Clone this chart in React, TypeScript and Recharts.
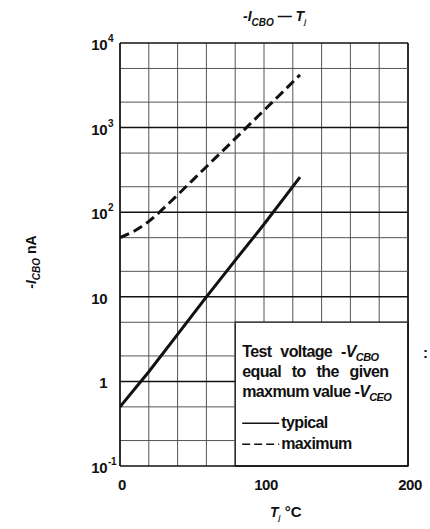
import { LineChart, Line, XAxis, YAxis, CartesianGrid, ReferenceLine, ReferenceArea } from "recharts"

// typical curve (solid)
const typicalTemp = [0, 20, 40, 60, 80, 100, 125]
const typicalCurrent = [0.5, 1.3, 3.6, 10, 27, 72, 260]

// maximum curve (dashed)
const maxTemp = [0, 10, 20, 30, 40, 50, 60, 70, 80, 90, 100, 110, 125]
const maxCurrent = [50, 60, 78, 110, 160, 235, 345, 505, 740, 1090, 1600, 2350, 4200]

const xTicks = [0, 20, 40, 60, 80, 100, 120, 140, 160, 180, 200]
const xLabels = [0, 100, 200]

const yMinor = [0.2, 0.5, 2, 5, 20, 50, 200, 500, 2000, 5000]
const yDecades = [0.1, 1, 10, 100, 1000, 10000]
const yBases = ["10", "1", "10", "10", "10", "10"]
const ySups = ["-1", "", "", "2", "3", "4"]

// note box spans x 80..200, y 0.1..5
const noteX = [80, 200]
const noteY = [0.1, 5]

const typicalData = typicalTemp.map((t, i) => ({ t, i: typicalCurrent[i] }))
const maxData = maxTemp.map((t, i) => ({ t, i: maxCurrent[i] }))
// minor grid rows, cut short where the note box sits
const minorRows = yMinor.map((v) => [
  { t: 0, g: v },
  { t: v < noteY[1] ? noteX[0] : 200, g: v },
])

const W = 430
const H = 529
const M = { top: 43, right: 22, bottom: 33, left: 50 }
const Y_AXIS_W = 70
const PLOT_L = M.left + Y_AXIS_W
const PLOT_R = W - M.right
const NOTE_L = PLOT_L + (noteX[0] / 200) * (PLOT_R - PLOT_L)

const FONT = "'Liberation Sans', Arial, sans-serif"
const INK = "#111"
const GRID = "#555"

const YTick = (props: any) => {
  const { y, payload } = props
  const v = payload.value
  const idx = yDecades.indexOf(v)
  if (idx < 0) return <g />
  const isEdge = v === 0.1 || v === 10000
  const x2 = v < noteY[1] ? NOTE_L : PLOT_R
  const bx = 107
  return (
    <g>
      {!isEdge && <line x1={PLOT_L} x2={x2} y1={y} y2={y} stroke={INK} strokeWidth={1.5} />}
      <g fontFamily={FONT} fontWeight="bold" fill={INK}>
        <text x={bx} y={y + 7} textAnchor="end" fontSize={15} letterSpacing={-0.5}>
          {yBases[idx]}
        </text>
        {ySups[idx] && (
          <text x={bx + 1} y={y - 1} textAnchor="start" fontSize={10} letterSpacing={-0.3}>
            {ySups[idx]}
          </text>
        )}
      </g>
    </g>
  )
}

const XTick = (props: any) => {
  const { x, y, payload } = props
  if (!xLabels.includes(payload.value)) return <g />
  return (
    <text x={x + 2} y={y + 16} textAnchor="middle" fontFamily={FONT} fontWeight="bold" fontSize={15} letterSpacing={-0.5} fill={INK}>
      {payload.value}
    </text>
  )
}

const Note = (props: any) => {
  const vb = props.viewBox || { x: 236, y: 322 }
  const x = vb.x + 7
  const y = vb.y
  return (
    <g fontFamily={FONT} fontWeight="bold" fontSize={16} fill={INK} letterSpacing={-0.6}>
      <text x={x} y={y + 35} wordSpacing={5}>
        Test voltage -<tspan fontStyle="italic">V</tspan>
        <tspan fontSize={11} dy={4} fontStyle="italic">CBO</tspan>
      </text>
      <text x={x} y={y + 55} wordSpacing={7}>
        equal to the given
      </text>
      <text x={x} y={y + 75}>
        maxmum value -<tspan fontStyle="italic">V</tspan>
        <tspan fontSize={11} dy={4} fontStyle="italic">CEO</tspan>
      </text>
      <line x1={x} x2={x + 37} y1={y + 101} y2={y + 101} stroke={INK} strokeWidth={1.5} />
      <text x={x + 39} y={y + 106}>typical</text>
      <line x1={x} x2={x + 37} y1={y + 122} y2={y + 122} stroke={INK} strokeWidth={1.5} strokeDasharray="8 4" />
      <text x={x + 39} y={y + 127}>maximum</text>
    </g>
  )
}

export default function App() {
  return (
    <div style={{ position: "absolute", left: 0, top: 0, width: W, height: H, background: "#fff" }}>
      <LineChart width={W} height={H} margin={M}>
        <CartesianGrid stroke={GRID} strokeWidth={1} horizontal={false} verticalValues={xTicks} />
        <XAxis
          dataKey="t"
          type="number"
          domain={[0, 200]}
          ticks={xTicks}
          interval={0}
          tickLine={false}
          axisLine={{ stroke: INK, strokeWidth: 1.6 }}
          tick={<XTick />}
          height={30}
          allowDataOverflow
        />
        <YAxis
          scale="log"
          domain={[0.1, 10000]}
          ticks={yDecades}
          interval={0}
          tickLine={false}
          axisLine={{ stroke: INK, strokeWidth: 1.6 }}
          tick={<YTick />}
          width={Y_AXIS_W}
          allowDataOverflow
        />
        <ReferenceLine y={10000} stroke={INK} strokeWidth={1.6} />
        <ReferenceLine x={200} stroke={INK} strokeWidth={1.6} />
        <ReferenceArea
          x1={noteX[0]}
          x2={noteX[1]}
          y1={noteY[0]}
          y2={noteY[1]}
          fill="#fff"
          fillOpacity={1}
          stroke={INK}
          strokeWidth={1.3}
          label={<Note />}
        />
        {minorRows.map((row, k) => (
          <Line
            key={`row${k}`}
            data={row}
            dataKey="g"
            type="linear"
            stroke={GRID}
            strokeWidth={1}
            dot={false}
            activeDot={false}
            isAnimationActive={false}
          />
        ))}
        <Line data={typicalData} dataKey="i" type="linear" stroke={INK} strokeWidth={3} dot={false} isAnimationActive={false} />
        <Line data={maxData} dataKey="i" type="monotone" stroke={INK} strokeWidth={3} strokeDasharray="10 5" dot={false} isAnimationActive={false} />
        <text x={243} y={21} fontFamily={FONT} fontWeight="bold" fontStyle="italic" fontSize={14} fill={INK}>
          -I<tspan fontSize={10} dy={5}>CBO</tspan>
          <tspan dy={-5} fontSize={14} fontStyle="normal"> —  </tspan>
          <tspan>T</tspan>
          <tspan fontSize={7} dy={3}>j</tspan>
        </text>
        <text
          x={36}
          y={262}
          transform="rotate(-90 36 262)"
          textAnchor="middle"
          fontFamily={FONT}
          fontWeight="bold"
          fontSize={14}
          fill={INK}
        >
          <tspan fontStyle="italic">-I</tspan>
          <tspan fontStyle="italic" fontSize={10} dy={4}>CBO</tspan>
          <tspan dy={-4}> nA</tspan>
        </text>
        <text x={270} y={517} fontFamily={FONT} fontWeight="bold" fontSize={15} fill={INK}>
          <tspan fontStyle="italic" fontSize={14}>T</tspan>
          <tspan fontStyle="italic" fontSize={7} dy={3}>j</tspan>
          <tspan dy={-3}> °C</tspan>
        </text>
        <text x={423} y={358} fontFamily={FONT} fontWeight="bold" fontSize={15} fill={INK}>:</text>
      </LineChart>
    </div>
  )
}
